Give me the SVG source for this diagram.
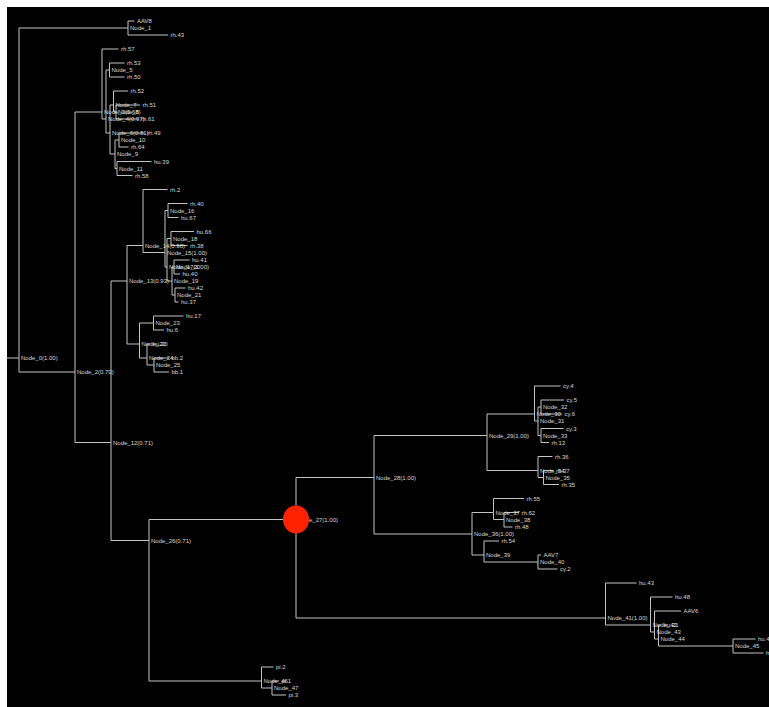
<svg xmlns="http://www.w3.org/2000/svg" width="769" height="707" viewBox="0 0 769 707">
<style>
.e{fill:none;stroke:#c4c4c4;stroke-width:1}
text{font-family:"Liberation Sans",Arial,sans-serif;font-size:6px;fill:#d8d8d8}
</style>
<rect x="0" y="0" width="769" height="707" fill="#ffffff"/>
<rect x="7" y="7" width="762" height="700" fill="#000000"/>
<g id="connectors" class="e">
<path d="M7 358H19"/>
<path d="M19 358V28H128"/><path d="M19 358V372H75"/>
<path d="M128 28V21H134.5"/><path d="M128 28V35H168"/>
<path d="M75 372V112H102"/><path d="M75 372V442.5H111"/>
<path d="M102 112V49H118.5"/><path d="M102 112V119H106"/>
<path d="M106 119V70H109.5"/><path d="M106 119V133H110"/>
<path d="M109.5 70V63H124.5"/><path d="M109.5 70V77H124.5"/>
<path d="M110 133V105H113.5"/><path d="M110 133V154H115"/>
<path d="M113.5 105V91H128"/><path d="M113.5 105V112H116"/>
<path d="M116 112V105H140"/><path d="M116 112V119H138.5"/>
<path d="M115 154V140H119"/><path d="M115 154V168.5H117"/>
<path d="M119 140V133H144.5"/><path d="M119 140V147H128.5"/>
<path d="M117 168.5V161.5H151.5"/><path d="M117 168.5V175.5H132.5"/>
<path d="M111 442.5V281H127"/><path d="M111 442.5V540.5H149"/>
<path d="M127 281V245.5H143"/><path d="M127 281V344H139.5"/>
<path d="M143 245.5V189.5H167.5"/><path d="M143 245.5V252.5H165"/>
<path d="M165 252.5V210.5H168"/><path d="M165 252.5V267H167"/>
<path d="M168 210.5V203.5H187.5"/><path d="M168 210.5V217.5H178.5"/>
<path d="M167 267V238.5H171"/><path d="M167 267V281H172"/>
<path d="M171 238.5V231.5H194"/><path d="M171 238.5V245.5H187.5"/>
<path d="M172 281V267H174"/><path d="M172 281V295H175"/>
<path d="M174 267V260H189.5"/><path d="M174 267V274H180"/>
<path d="M175 295V288H185.5"/><path d="M175 295V302H178.5"/>
<path d="M139.5 344V323H153.5"/><path d="M139.5 344V358H147"/>
<path d="M153.5 323V316H183.5"/><path d="M153.5 323V330H164"/>
<path d="M147 358V344H150"/><path d="M147 358V365H154"/>
<path d="M154 365V358H169"/><path d="M154 365V372H169"/>
<path d="M149 540.5V519.5H296"/><path d="M149 540.5V681H261.5"/>
<path d="M296 519.5V477.5H374"/><path d="M296 519.5V618H605.5"/>
<path d="M374 477.5V435.5H487"/><path d="M374 477.5V534H472"/>
<path d="M487 435.5V414H534.5"/><path d="M487 435.5V470.5H538"/>
<path d="M534.5 414V386H560.5"/><path d="M534.5 414V421H538"/>
<path d="M538 421V407H541"/><path d="M538 421V435.5H541"/>
<path d="M541 407V400H564"/><path d="M541 407V414H562"/>
<path d="M541 435.5V428.5H563.5"/><path d="M541 435.5V442.5H549"/>
<path d="M538 470.5V456.5H552.5"/><path d="M538 470.5V477.5H543.5"/>
<path d="M543.5 477.5V470.5H553.5"/><path d="M543.5 477.5V484.5H559"/>
<path d="M472 534V512.5H493.5"/><path d="M472 534V555H484"/>
<path d="M493.5 512.5V498.5H524"/><path d="M493.5 512.5V519.5H504"/>
<path d="M504 519.5V512.5H519"/><path d="M504 519.5V527H512.5"/>
<path d="M484 555V541H499"/><path d="M484 555V562H538"/>
<path d="M538 562V555H541"/><path d="M538 562V569H557.5"/>
<path d="M605.5 618V583H636.5"/><path d="M605.5 618V625H650.5"/>
<path d="M650.5 625V597H672.5"/><path d="M650.5 625V632H654.5"/>
<path d="M654.5 632V611H681"/><path d="M654.5 632V639H658.5"/>
<path d="M658.5 639V625H661"/><path d="M658.5 639V646H733"/>
<path d="M733 646V639H755.5"/><path d="M733 646V653H763.5"/>
<path d="M261.5 681V667H273.5"/><path d="M261.5 681V688H272"/>
<path d="M272 688V681H279"/><path d="M272 688V695H286"/>
</g>
<g id="Node_0"><text x="21" y="360.2">Node_0(1.00)</text></g>
<g id="Node_1"><text x="130" y="30.2">Node_1</text></g>
<g id="AAV8"><text x="137" y="23.2">AAV8</text></g>
<g id="rh.43"><text x="170.5" y="37.2">rh.43</text></g>
<g id="Node_2"><text x="77" y="374.2">Node_2(0.70)</text></g>
<g id="Node_3"><text x="104" y="114.2">Node_3(0.68)</text></g>
<g id="rh.57"><text x="121" y="51.2">rh.57</text></g>
<g id="Node_4"><text x="108" y="121.2">Node_4(0.97)</text></g>
<g id="Node_5"><text x="111.5" y="72.2">Node_5</text></g>
<g id="rh.53"><text x="127" y="65.2">rh.53</text></g>
<g id="rh.50"><text x="127" y="79.2">rh.50</text></g>
<g id="Node_6"><text x="112" y="135.2">Node_6(0.81)</text></g>
<g id="Node_7"><text x="115.5" y="107.2">Node_7</text></g>
<g id="rh.52"><text x="130.5" y="93.2">rh.52</text></g>
<g id="Node_8"><text x="118" y="114.2">Node_8</text></g>
<g id="rh.51"><text x="142.5" y="107.2">rh.51</text></g>
<g id="rh.61"><text x="141" y="121.2">rh.61</text></g>
<g id="Node_9"><text x="117" y="156.2">Node_9</text></g>
<g id="Node_10"><text x="121" y="142.2">Node_10</text></g>
<g id="rh.49"><text x="147" y="135.2">rh.49</text></g>
<g id="rh.64"><text x="131" y="149.2">rh.64</text></g>
<g id="Node_11"><text x="119" y="170.7">Node_11</text></g>
<g id="hu.39"><text x="154" y="163.7">hu.39</text></g>
<g id="rh.58"><text x="135" y="177.7">rh.58</text></g>
<g id="Node_12"><text x="113" y="444.7">Node_12(0.71)</text></g>
<g id="Node_13"><text x="129" y="283.2">Node_13(0.93)</text></g>
<g id="Node_14"><text x="145" y="247.7">Node_14(0.98)</text></g>
<g id="rh.2"><text x="170" y="191.7">rh.2</text></g>
<g id="Node_15"><text x="167" y="254.7">Node_15(1.00)</text></g>
<g id="Node_16"><text x="170" y="212.7">Node_16</text></g>
<g id="rh.40"><text x="190" y="205.7">rh.40</text></g>
<g id="hu.67"><text x="181" y="219.7">hu.67</text></g>
<g id="Node_17"><text x="169" y="269.2">Node_17(1.00)</text></g>
<g id="Node_18"><text x="173" y="240.7">Node_18</text></g>
<g id="hu.66"><text x="196.5" y="233.7">hu.66</text></g>
<g id="rh.38"><text x="190" y="247.7">rh.38</text></g>
<g id="Node_19"><text x="174" y="283.2">Node_19</text></g>
<g id="Node_20"><text x="176" y="269.2">Node_20</text></g>
<g id="hu.41"><text x="192" y="262.2">hu.41</text></g>
<g id="hu.40"><text x="182.5" y="276.2">hu.40</text></g>
<g id="Node_21"><text x="177" y="297.2">Node_21</text></g>
<g id="hu.42"><text x="188" y="290.2">hu.42</text></g>
<g id="hu.37"><text x="181" y="304.2">hu.37</text></g>
<g id="Node_22"><text x="141.5" y="346.2">Node_22</text></g>
<g id="Node_23"><text x="155.5" y="325.2">Node_23</text></g>
<g id="hu.17"><text x="186" y="318.2">hu.17</text></g>
<g id="hu.6"><text x="166.5" y="332.2">hu.6</text></g>
<g id="Node_24"><text x="149" y="360.2">Node_24</text></g>
<g id="hu.20"><text x="152.5" y="346.2">hu.20</text></g>
<g id="Node_25"><text x="156" y="367.2">Node_25</text></g>
<g id="bb.2"><text x="171.5" y="360.2">bb.2</text></g>
<g id="bb.1"><text x="171.5" y="374.2">bb.1</text></g>
<g id="Node_26"><text x="151" y="542.7">Node_26(0.71)</text></g>
<g id="Node_28"><text x="376" y="479.7">Node_28(1.00)</text></g>
<g id="Node_29"><text x="489" y="437.7">Node_29(1.00)</text></g>
<g id="Node_30"><text x="536.5" y="416.2">Node_30</text></g>
<g id="cy.4"><text x="563" y="388.2">cy.4</text></g>
<g id="Node_31"><text x="540" y="423.2">Node_31</text></g>
<g id="Node_32"><text x="543" y="409.2">Node_32</text></g>
<g id="cy.5"><text x="566.5" y="402.2">cy.5</text></g>
<g id="cy.6"><text x="564.5" y="416.2">cy.6</text></g>
<g id="Node_33"><text x="543" y="437.7">Node_33</text></g>
<g id="cy.3"><text x="566" y="430.7">cy.3</text></g>
<g id="rh.13"><text x="551.5" y="444.7">rh.13</text></g>
<g id="Node_34"><text x="540" y="472.7">Node_34</text></g>
<g id="rh.36"><text x="555" y="458.7">rh.36</text></g>
<g id="Node_35"><text x="545.5" y="479.7">Node_35</text></g>
<g id="rh.37"><text x="556" y="472.7">rh.37</text></g>
<g id="rh.35"><text x="561.5" y="486.7">rh.35</text></g>
<g id="Node_36"><text x="474" y="536.2">Node_36(1.00)</text></g>
<g id="Node_37"><text x="495.5" y="514.7">Node_37</text></g>
<g id="rh.55"><text x="526.5" y="500.7">rh.55</text></g>
<g id="Node_38"><text x="506" y="521.7">Node_38</text></g>
<g id="rh.62"><text x="521.5" y="514.7">rh.62</text></g>
<g id="rh.48"><text x="515" y="529.2">rh.48</text></g>
<g id="Node_39"><text x="486" y="557.2">Node_39</text></g>
<g id="rh.54"><text x="501.5" y="543.2">rh.54</text></g>
<g id="Node_40"><text x="540" y="564.2">Node_40</text></g>
<g id="AAV7"><text x="543.5" y="557.2">AAV7</text></g>
<g id="cy.2"><text x="560" y="571.2">cy.2</text></g>
<g id="Node_41"><text x="607.5" y="620.2">Node_41(1.00)</text></g>
<g id="hu.43"><text x="639" y="585.2">hu.43</text></g>
<g id="Node_42"><text x="652.5" y="627.2">Node_42</text></g>
<g id="hu.48"><text x="675" y="599.2">hu.48</text></g>
<g id="Node_43"><text x="656.5" y="634.2">Node_43</text></g>
<g id="AAV6"><text x="683.5" y="613.2">AAV6</text></g>
<g id="Node_44"><text x="660.5" y="641.2">Node_44</text></g>
<g id="hu.21"><text x="663.5" y="627.2">hu.21</text></g>
<g id="Node_45"><text x="735" y="648.2">Node_45</text></g>
<g id="hu.4"><text x="758" y="641.2">hu.4</text></g>
<g id="h"><text x="766" y="655.2">h</text></g>
<g id="Node_46"><text x="263.5" y="683.2">Node_46</text></g>
<g id="pi.2"><text x="276" y="669.2">pi.2</text></g>
<g id="Node_47"><text x="274" y="690.2">Node_47</text></g>
<g id="pi.1"><text x="281.5" y="683.2">pi.1</text></g>
<g id="pi.3"><text x="288.5" y="697.2">pi.3</text></g>
<g id="Node_27"><text x="298" y="521.7">Node_27(1.00)</text><ellipse cx="296" cy="519.5" rx="13" ry="14" fill="#ff2200"/></g>
</svg>
